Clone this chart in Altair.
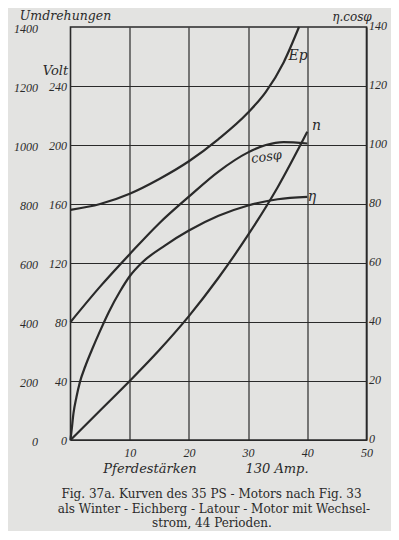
import altair as alt
import pandas as pd

# ---- data (x = Pferdestärken) ----
n_x = [0, 5, 10, 15, 20, 25, 30, 35, 40]
n_y = [0, 100, 200, 305, 420, 550, 695, 857, 1045]          # Umdrehungen

ep_x = [0, 5, 10, 15, 20, 25, 30, 33, 36, 38.6]
ep_y = [156, 160, 167, 177, 189, 204, 222, 236, 256, 280]   # Volt

eta_x = [0, 0.2, 0.5, 1, 1.6, 2.5, 3.6, 5, 6.5, 8.4, 10, 12, 16, 20, 25, 30, 35, 40]
eta_y = [0, 3.5, 9, 14.5, 19.7, 25, 30.5, 37, 43.5, 50.5, 55.5, 60, 66, 71, 76, 79.5, 81.6, 82.4]

cos_x = [0, 5, 10, 15, 20, 25, 30, 33, 36, 40]
cos_y = [40, 52, 63, 73.5, 82.5, 91, 97.5, 100, 101, 100.5]

x_ticks = [10, 20, 30, 40, 50]
rev_ticks = [0, 200, 400, 600, 800, 1000, 1200, 1400]
volt_ticks = [0, 40, 80, 120, 160, 200, 240]
eff_ticks = [0, 20, 40, 60, 80, 100, 120, 140]

caption = [
    "Fig. 37a.  Kurven des 35 PS - Motors nach Fig. 33",
    "als Winter - Eichberg - Latour - Motor mit Wechsel-",
    "strom, 44 Perioden.",
]

# ---- styling ----
INK = "#2a2a2a"
BG = "#e3e3e1"
HAND = "DejaVu Serif"
NUM = "Liberation Serif"
PL, PT = 70.5, 27  # plot origin on page

xs = alt.Scale(domain=[0, 50], nice=False, zero=False)
x_axis = alt.Axis(values=x_ticks, grid=True, gridColor=INK, gridWidth=1.2, gridOpacity=1,
                  ticks=False, domain=False, labelFont=NUM, labelFontStyle="italic",
                  labelFontSize=12, labelColor=INK, labelPadding=7, labelFlush=False,
                  format="d", title=None)

def lbl_axis(**kw):
    base = dict(ticks=False, domain=False, labelFont=NUM, labelFontStyle="italic",
                labelFontSize=12, labelColor=INK, labelFlush=False, format="d", title=None)
    base.update(kw)
    return alt.Axis(**base)

line_kw = dict(color=INK, strokeWidth=2.2, interpolate="monotone")

n_df = pd.DataFrame({"x": n_x, "y": n_y})
ep_df = pd.DataFrame({"x": ep_x, "y": ep_y})
eff_df = pd.concat([
    pd.DataFrame({"x": eta_x, "y": eta_y, "c": "eta"}),
    pd.DataFrame({"x": cos_x, "y": cos_y, "c": "cos"}),
])

rev_layer = alt.Chart(n_df).mark_line(**line_kw).encode(
    x=alt.X("x:Q", scale=xs, axis=x_axis),
    y=alt.Y("y:Q", scale=alt.Scale(domain=[0, 1400], nice=False),
            axis=lbl_axis(orient="left", offset=30, values=rev_ticks, grid=False,
                          labelPadding=3, labelOffset=1)),
)
volt_layer = alt.Chart(ep_df).mark_line(**line_kw).encode(
    x=alt.X("x:Q", scale=xs, axis=x_axis),
    y=alt.Y("y:Q", scale=alt.Scale(domain=[0, 280], nice=False),
            axis=lbl_axis(orient="left", offset=0, values=volt_ticks, grid=True,
                          gridColor=INK, gridWidth=1.2, gridOpacity=1, labelPadding=4)),
)
eff_layer = alt.Chart(eff_df).mark_line(**line_kw).encode(
    x=alt.X("x:Q", scale=xs, axis=x_axis),
    y=alt.Y("y:Q", scale=alt.Scale(domain=[0, 140], nice=False),
            axis=lbl_axis(orient="right", values=eff_ticks, grid=False,
                          labelPadding=2, labelOffset=-2)),
    detail="c:N",
)

one = alt.Data(values=[{}])

def txt(s, px, py, size=14, font=HAND, style="italic", angle=0, align="center"):
    kw = dict(text=s, font=font, fontSize=size, fontStyle=style,
              color=INK, align=align, baseline="middle")
    if angle:
        kw["angle"] = angle
    return alt.Chart(one).mark_text(**kw).encode(x=alt.value(px - PL), y=alt.value(py - PT))

texts = [
    txt("Umdrehungen", 65.5, 15.5, 12.5),
    txt("Volt", 55.5, 71, 13),
    txt("η.cosφ", 352, 17, 12),
    txt("Ep", 298, 56, 14),
    txt("n", 316.5, 126, 14),
    txt("cosφ", 266.5, 157, 13, angle=352),
    txt("η", 312, 197, 14),
    txt("Pferdestärken", 150, 469, 13),
    txt("130 Amp.", 277, 469, 13),
    txt(caption[0], 211.5, 494, 12, font="DejaVu Serif", style="normal"),
    txt(caption[1], 214, 509, 12, font="DejaVu Serif", style="normal"),
    txt(caption[2], 212, 523, 12, font="DejaVu Serif", style="normal"),
]

chart = alt.layer(rev_layer, volt_layer, eff_layer, *texts).resolve_scale(
    y="independent"
).properties(
    width=296, height=413,
    autosize=alt.AutoSizeParams(type="none"),
    padding={"left": 62.5, "top": 19, "right": 24.5, "bottom": 91},
    background=BG,
).configure_view(stroke=INK, strokeWidth=1.6)

chart.save("out.html", embed_options={"renderer": "svg", "actions": False})
